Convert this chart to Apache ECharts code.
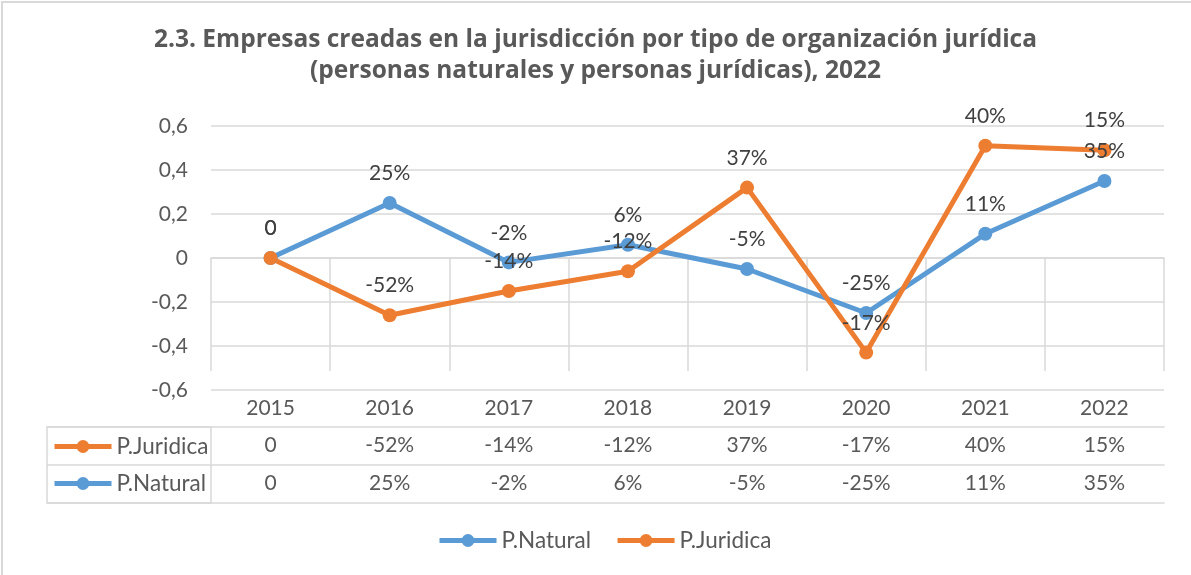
<!DOCTYPE html>
<html>
<head>
<meta charset="utf-8">
<script src="https://cdn.jsdelivr.net/npm/echarts@6/dist/echarts.min.js"></script>
<style>
html,body{margin:0;padding:0;background:#fff;overflow:hidden;}
#chart{width:1191px;height:575px;}
#frame{position:absolute;left:1px;top:1px;width:1250px;height:650px;border-left:2px solid #d9d9d9;border-top:2px solid #d9d9d9;pointer-events:none;}
</style>
</head>
<body>
<div id="chart"></div>
<div id="frame"></div>
<script>
// datos
var years=['2015','2016','2017','2018','2019','2020','2021','2022'];
var natural=[0,0.25,-0.02,0.06,-0.05,-0.25,0.11,0.35];
var juridica=[0,-0.26,-0.15,-0.06,0.32,-0.43,0.51,0.49];
var natural_lab=['0','25%','-2%','6%','-5%','-25%','11%','35%'];
var juridica_lab=['0','-52%','-14%','-12%','37%','-17%','40%','15%'];
var y_min=-0.6,y_max=0.6,y_step=0.2;

var c_nat='#5B9BD5',c_jur='#ED7D31';
var font='Lato';
var line_c='#d9d9d9';
var num_size=21,txt_size=22.5;

var myChart=echarts.init(document.getElementById('chart'));

function serie(name,data,labs,color){
    return {
        name:name,
        type:'line',
        data:data,
        xAxisIndex:0,
        yAxisIndex:0,
        symbol:'circle',
        symbolSize:14,
        lineStyle:{width:5,color:color},
        itemStyle:{color:color},
        label:{
            show:true,
            position:'top',
            distance:12,
            fontFamily:font,
            fontSize:num_size,
            color:'#404040',
            formatter:function(p){return labs[p.dataIndex];}
        }
    };
}

function rowAxis(offset,labs){                                   //filas de la tabla
    return {
        gridIndex:0,
        type:'category',
        data:years,
        position:'bottom',
        offset:offset,
        boundaryGap:true,
        axisLine:{show:true,lineStyle:{color:line_c,width:1.5}},
        axisTick:{show:false},
        splitLine:{show:false},
        axisLabel:{
            show:!!labs,
            interval:0,
            margin:8,
            fontFamily:font,
            fontSize:num_size,
            color:'#595959',
            formatter:function(v,i){return labs?labs[i]:'';}
        }
    };
}

var legend_base={
    itemWidth:57,
    itemHeight:16,
    padding:0,
    selectedMode:false,
    lineStyle:{width:5},
    textStyle:{fontFamily:font,fontSize:txt_size,color:'#595959',lineHeight:22}
};

var option={
    animation:false,
    backgroundColor:'#fff',
    title:{
        text:'2.3. Empresas creadas en la jurisdicción por tipo de organización jurídica\n(personas naturales y personas jurídicas), 2022',
        left:'center',
        top:20,
        textStyle:{fontFamily:'Open Sans',fontSize:24.5,fontWeight:'bold',color:'#595959',lineHeight:31}
    },
    legend:[
        echarts.util.extend({
            data:['P.Natural','P.Juridica'],
            left:437,
            top:529,
            itemGap:24
        },legend_base),
        echarts.util.extend({
            data:['P.Juridica','P.Natural'],
            orient:'vertical',
            left:52,
            top:435,
            itemGap:14
        },legend_base)
    ],
    grid:[
        {left:211,right:27,top:126,height:264,outerBoundsMode:'none'},
        {left:47,width:164,top:427,height:76,show:true,borderColor:line_c,borderWidth:1.5,backgroundColor:'transparent',outerBoundsMode:'none'}
    ],
    xAxis:[
        {
            gridIndex:0,
            type:'category',
            data:years,
            position:'bottom',
            boundaryGap:true,
            axisLine:{show:true,lineStyle:{color:line_c,width:1.5}},
            axisTick:{show:true,interval:0,length:113,lineStyle:{color:line_c,width:1.5}},
            splitLine:{show:false},
            axisLabel:{interval:0,margin:8,fontFamily:font,fontSize:num_size,color:'#595959'}
        },
        rowAxis(37,juridica_lab),
        rowAxis(75,natural_lab),
        rowAxis(113,null),
        {gridIndex:1,type:'value',show:false}
    ],
    yAxis:[
        {
            gridIndex:0,
            type:'value',
            min:y_min,
            max:y_max,
            interval:y_step,
            axisLine:{show:false},
            axisTick:{show:false},
            splitLine:{lineStyle:{color:line_c,width:1.5}},
            axisLabel:{
                margin:23,
                fontFamily:font,
                fontSize:num_size,
                color:'#595959',
                formatter:function(v){
                    var r=Math.round(v*10)/10;
                    return r===0?'0':String(r).replace('.',',');
                }
            }
        },
        {
            gridIndex:1,
            type:'category',
            data:['P.Natural','P.Juridica'],
            axisLine:{show:false},
            axisTick:{show:false},
            axisLabel:{show:false},
            splitLine:{show:true,interval:0,lineStyle:{color:line_c,width:1.5}}
        }
    ],
    series:[
        serie('P.Natural',natural,natural_lab,c_nat),
        serie('P.Juridica',juridica,juridica_lab,c_jur)
    ]
};

myChart.setOption(option);
</script>
</body>
</html>
